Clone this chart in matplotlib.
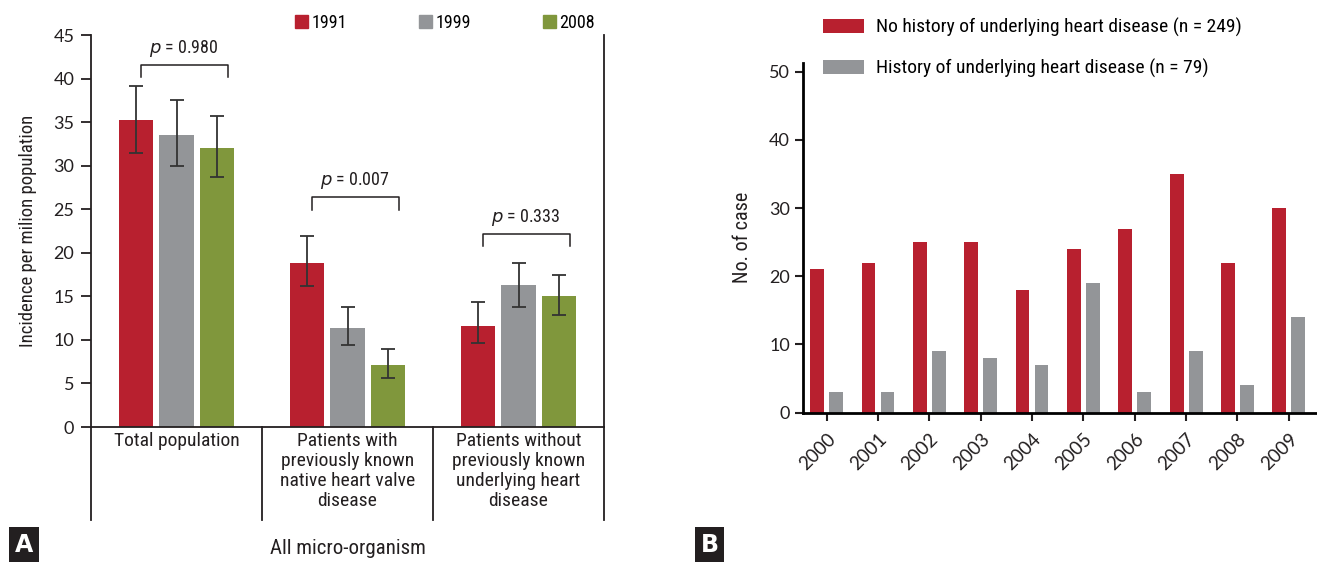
import matplotlib
matplotlib.use("Agg")
import matplotlib.pyplot as plt
import numpy as np
from matplotlib.patches import Patch

plt.rcParams['font.family'] = ['Roboto Condensed', 'Liberation Sans Narrow', 'Lato', 'DejaVu Sans']
num_font = ['Lato', 'DejaVu Sans']

# ---- panel A data ----
groups = ['Total population',
          'Patients with\npreviously known\nnative heart valve\ndisease',
          'Patients without\npreviously known\nunderlying heart\ndisease']
years_a = ['1991', '1999', '2008']
incidence = [[35.2, 18.8, 11.6],
             [33.5, 11.4, 16.3],
             [32.0, 7.1, 15.0]]
err_low = [[31.4, 16.2, 9.6],
           [30.0, 9.4, 13.8],
           [28.7, 5.6, 12.8]]
err_high = [[39.1, 21.9, 14.3],
            [37.5, 13.8, 18.8],
            [35.7, 9.0, 17.5]]
p_values = ['0.980', '0.007', '0.333']
bracket_top = [41.5, 26.4, 22.2]
bracket_leg = [40.2, 24.9, 20.8]

# ---- panel B data ----
years_b = ['2000', '2001', '2002', '2003', '2004', '2005', '2006', '2007', '2008', '2009']
no_history = [21, 22, 25, 25, 18, 24, 27, 35, 22, 30]
history = [3, 3, 9, 8, 7, 19, 3, 9, 4, 14]

red = '#B8202F'
gray = '#939598'
green = '#80973C'
colors_a = [red, gray, green]
dark = '#231F20'

W, H = 1317, 562
fig = plt.figure(figsize=(W / 100, H / 100), dpi=100)

def box(l, t, r, b):
    return [l / W, 1 - b / H, (r - l) / W, (b - t) / H]

# ================= Panel A =================
ax = fig.add_axes(box(91, 35, 604, 427))
x = np.arange(len(groups))
offsets = [-0.235, 0, 0.235]
for i, yr in enumerate(years_a):
    vals = np.array(incidence[i])
    lo = vals - np.array(err_low[i])
    hi = np.array(err_high[i]) - vals
    ax.bar(x + offsets[i], vals, width=0.2, color=colors_a[i], label=yr, zorder=2)
    ax.errorbar(x + offsets[i], vals, yerr=[lo, hi], fmt='none', ecolor='#333333',
                elinewidth=1.3, capsize=5, capthick=1.3, zorder=3)

for k in range(len(groups)):
    x0, x1 = k - 0.21, k + 0.30
    ax.plot([x0, x0, x1, x1], [bracket_leg[k], bracket_top[k], bracket_top[k], bracket_leg[k]],
            color=dark, lw=1.1)
    ax.text((x0 + x1) / 2, bracket_top[k] + 0.7, r'$\it{p}$ = ' + p_values[k],
            ha='center', va='bottom', fontsize=13, color=dark)

ax.set_xlim(-0.5, 2.5)
ax.set_ylim(0, 45)
ax.set_yticks(range(0, 46, 5))
ax.set_xticks([])
ax.spines['top'].set_visible(False)
for s in ['left', 'bottom', 'right']:
    ax.spines[s].set_linewidth(1.3)
    ax.spines[s].set_color(dark)
ax.tick_params(axis='y', length=7, width=1.3, labelsize=13, colors=dark, pad=5)
for t in ax.get_yticklabels():
    t.set_family(num_font)
ax.set_ylabel('Incidence per milion population', fontsize=13.5, color=dark, labelpad=12)

trans = ax.get_xaxis_transform()
for xd in [-0.5, 0.5, 1.5, 2.5]:
    ax.plot([xd, xd], [0, -0.237], transform=trans, color=dark, lw=1.3, clip_on=False)
for k, g in enumerate(groups):
    ax.text(k, -0.013, g, transform=trans, ha='center', va='top', fontsize=14,
            color=dark, linespacing=1.13)
ax.text(1, -0.31, 'All micro-organism', transform=trans, ha='center', va='center',
        fontsize=15, color=dark)

fig.legend(handles=[Patch(color=c, label=l) for c, l in zip(colors_a, years_a)],
           loc='center left', bbox_to_anchor=(295 / W, 1 - 23 / H), ncol=3, frameon=False,
           fontsize=13, handlelength=0.7, handleheight=0.7, handletextpad=0.2,
           columnspacing=4.0, borderpad=0, borderaxespad=0)

# ================= Panel B =================
bx = fig.add_axes(box(803, 63, 1316, 412.5))
xb = np.arange(len(years_b))
bx.bar(xb - 0.185, no_history, width=0.27, color=red,
       label='No history of underlying heart disease (n = 249)')
bx.bar(xb + 0.185, history, width=0.27, color=gray,
       label='History of underlying heart disease (n = 79)')
bx.set_xlim(-0.46, 9.53)
bx.set_ylim(0, 51.3)
bx.set_yticks(range(0, 51, 10))
bx.set_xticks(xb)
bx.set_xticklabels(years_b, rotation=45, ha='right', rotation_mode='anchor')
for s in ['top', 'right']:
    bx.spines[s].set_visible(False)
for s in ['left', 'bottom']:
    bx.spines[s].set_linewidth(2)
    bx.spines[s].set_color('black')
bx.tick_params(axis='both', length=6, width=1.5, labelsize=13, colors=dark)
bx.tick_params(axis='x', pad=7, labelsize=13.5)
for t in bx.get_yticklabels() + bx.get_xticklabels():
    t.set_family(num_font)
bx.set_ylabel('No. of case', fontsize=14.5, color=dark, labelpad=12)
bx.legend(loc='upper left', bbox_to_anchor=(823 / W, 1 - 18 / H),
          bbox_transform=fig.transFigure, frameon=False, fontsize=14,
          handlelength=2.1, handleheight=0.7, handletextpad=0.6,
          labelspacing=1.12, borderpad=0, borderaxespad=0)

# panel letters
for lbl, l, r in [('A', 8, 40), ('B', 690, 729)]:
    fig.text((l + r) / 2 / W, 1 - 545 / H, lbl, ha='center', va='center', color='white',
             fontsize=17, fontweight='bold', family='DejaVu Sans',
             bbox=dict(boxstyle='square,pad=0.25', fc='#231F20', ec='none'))

fig.savefig('out.png', dpi=100)
